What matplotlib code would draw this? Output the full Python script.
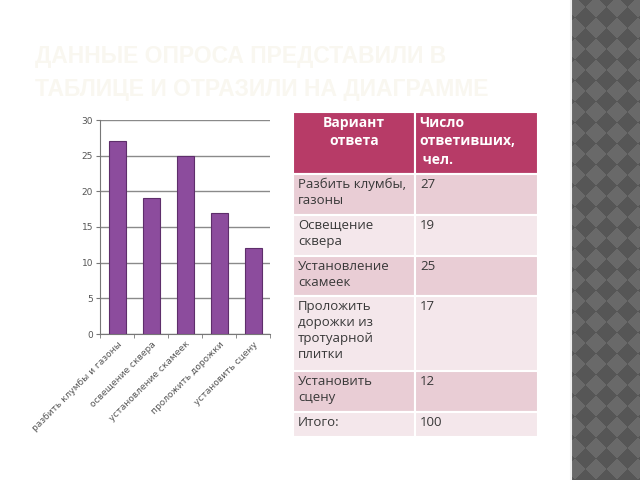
import numpy as np
import matplotlib
matplotlib.use('Agg')
import matplotlib.pyplot as plt
from matplotlib.patches import Rectangle

# survey data
categories = ['разбить клумбы и газоны', 'освещение сквера', 'установление скамеек',
              'проложить дорожки', 'установить сцену']
answers = [27, 19, 25, 17, 12]

table_header = ['Вариант\nответа', 'Число\nответивших,\n чел.']
table_rows = ['Разбить клумбы,\nгазоны', 'Освещение\nсквера', 'Установление\nскамеек',
              'Проложить\nдорожки из\nтротуарной\nплитки', 'Установить\nсцену', 'Итого:']
table_values = ['27', '19', '25', '17', '12', '100']

title = 'ДАННЫЕ ОПРОСА ПРЕДСТАВИЛИ В\nТАБЛИЦЕ И ОТРАЗИЛИ НА ДИАГРАММЕ'

W, H = 640, 480
fig = plt.figure(figsize=(6.4, 4.8), dpi=100)
fig.patch.set_facecolor('white')


def px(x0, y0, w, h):
    # pixel box (top-left origin) -> figure fraction
    return [x0 / W, 1 - (y0 + h) / H, w / W, h / H]


# faint title
fig.text(35 / W, 1 - 45 / H, title, ha='left', va='top', fontsize=16.5,
         fontweight='bold', family=['Liberation Sans', 'DejaVu Sans'],
         color='#F9F7F0', linespacing=1.55)

# bar chart
ax = fig.add_axes(px(100, 120, 170, 214))
x = np.arange(len(categories))
ax.bar(x, answers, width=0.5, color='#8C4C9D', edgecolor='#5E2E6B', linewidth=0.8, zorder=3)
ax.set_xlim(-0.5, len(categories) - 0.5)
ax.set_ylim(0, 30)
ax.set_yticks(range(0, 31, 5))
ax.yaxis.grid(True, color='#8A8A8A', linewidth=1.0, zorder=0)
ax.set_axisbelow(True)
for s in ['top', 'right']:
    ax.spines[s].set_visible(False)
ax.spines['left'].set_color('#777777')
ax.spines['bottom'].set_color('#777777')
ax.set_xticks(x)
ax.set_xticklabels(categories, rotation=45, ha='right', va='top', rotation_mode='anchor',
                   fontsize=6.5, color='#555555')
ax.set_xticks(np.arange(-0.5, len(categories)), minor=True)
ax.tick_params(axis='x', which='major', length=0, pad=4)
ax.tick_params(axis='x', which='minor', length=3, color='#777777')
ax.tick_params(axis='y', length=3, color='#777777', labelsize=6.5, labelcolor='#555555', pad=2)

# table
tx = fig.add_axes(px(293, 112, 245, 325))
tx.set_xlim(0, 245)
tx.set_ylim(325, 0)
tx.axis('off')
col_w = [122, 123]
row_h = [62, 41, 41, 40, 75, 41, 25]
font = ['Open Sans', 'DejaVu Sans']
y = 0
for r, h in enumerate(row_h):
    if r == 0:
        color = '#B73B67'
    elif r % 2 == 1:
        color = '#E9CDD5'
    else:
        color = '#F4E7EB'
    xl = 0
    for c, w in enumerate(col_w):
        tx.add_patch(Rectangle((xl, y), w, h, facecolor=color, edgecolor='white', linewidth=1.5))
        xl += w
    if r == 0:
        tx.text(col_w[0] / 2, y + 4, table_header[0], ha='center', va='top', fontsize=10,
                fontweight='bold', color='white', family=font, linespacing=1.4)
        tx.text(col_w[0] + 4, y + 4, table_header[1], ha='left', va='top', fontsize=10,
                fontweight='bold', color='white', family=font, linespacing=1.4)
    else:
        tx.text(5, y + 4, table_rows[r - 1], ha='left', va='top', fontsize=9.5,
                color='#383838', family=font, linespacing=1.3)
        tx.text(col_w[0] + 5, y + 4, table_values[r - 1], ha='left', va='top', fontsize=9.5,
                color='#383838', family=font)
    y += h

# checkered stripe on the right
sx = fig.add_axes(px(571, 0, 69, 480))
yy, xx = np.mgrid[0:480, 0:69]
s = 21
pattern = ((xx + yy) // s + (xx - yy + 1000) // s) % 2
sx.imshow(pattern, cmap=matplotlib.colors.ListedColormap(['#565656', '#696969']),
          aspect='auto', interpolation='bilinear')
sx.axis('off')
fig.add_artist(plt.Line2D([571 / W, 571 / W], [0, 1], color='#F0F0F0', linewidth=1.5))

fig.savefig('out.png', dpi=100)
